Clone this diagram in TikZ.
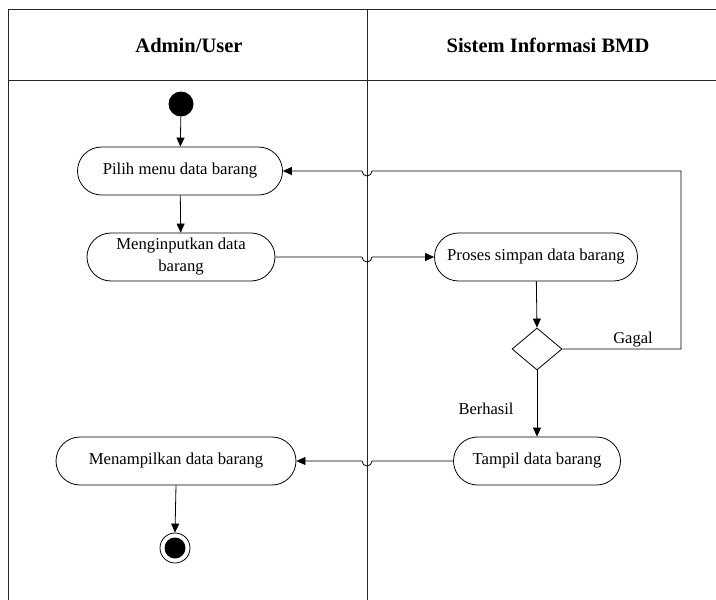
\documentclass[tikz,border=0pt]{standalone}
\usepackage{fontspec}
\setmainfont{Liberation Serif}
\usetikzlibrary{arrows.meta,shapes.geometric}
\begin{document}
\begin{tikzpicture}[x=1pt,y=-1pt,
  act/.style={draw,line width=0.8pt,rounded corners=24pt,minimum height=48pt,inner sep=0pt,align=center,font=\fontsize{16.7}{22}\selectfont},
  flow/.style={draw,line width=0.8pt,-{Triangle[length=9pt,width=8pt]}},
  lane/.style={draw,line width=1pt,black!85},
  lbl/.style={font=\fontsize{16.5}{18}\selectfont,inner sep=0pt}]
\useasboundingbox (0,0) rectangle (716,600);
% swimlanes
\draw[lane] (716,9.5) -- (8,9.5) -- (8,600);
\draw[lane] (8,80) -- (716,80);
\draw[lane] (367,9.5) -- (367,600);
\node[font=\bfseries\fontsize{20.5}{22}\selectfont] (h1) at (189,45) {Admin/User};
\node[font=\bfseries\fontsize{20.5}{22}\selectfont] (h2) at (548,45) {Sistem Informasi BMD};
% nodes
\node[circle,fill=black,minimum size=25pt,inner sep=0pt] (start) at (181,104) {};
\node[act,minimum width=205pt] (pilih) at (180,171) {Pilih menu data barang};
\node[act,minimum width=188pt] (input) at (181,257) {Menginputkan data\\barang};
\node[act,minimum width=203pt] (proses) at (536,257) {Proses simpan data barang};
\node[diamond,draw,line width=0.8pt,minimum width=50pt,minimum height=42pt,inner sep=0pt] (dec) at (537,349) {};
\node[act,minimum width=167pt] (tampil) at (537,461) {Tampil data barang};
\node[act,minimum width=240pt] (tampilkan) at (176,461) {Menampilkan data barang};
\node[circle,draw,line width=0.8pt,minimum size=30pt,inner sep=0pt] (end) at (175,548) {};
\node[circle,fill=black,minimum size=21pt,inner sep=0pt] (endin) at (end.center) {};
\coordinate (corner1) at (681,349);
\coordinate (corner2) at (681,171);
% labels
\node[lbl] (gagal) at (633,340) {Gagal};
\node[lbl] (berhasil) at (486,409) {Berhasil};
% connectors
\draw[flow] (start) -- (pilih);
\draw[flow] (pilih) -- (input);
\draw[flow] (input.east) -- (362,257) arc[start angle=180,end angle=0,radius=5] -- (proses.west);
\draw[flow] (proses) -- (dec.north);
\draw[flow] (dec.east) -- (corner1) -- (corner2) -- (372,171) arc[start angle=0,end angle=180,radius=5] -- (pilih.east);
\draw[flow] (dec.south) -- (tampil.north);
\draw[flow] (tampil.west) -- (372,461) arc[start angle=0,end angle=180,radius=5] -- (tampilkan.east);
\draw[flow] (tampilkan.south) -- (end.north);
\end{tikzpicture}
\end{document}
